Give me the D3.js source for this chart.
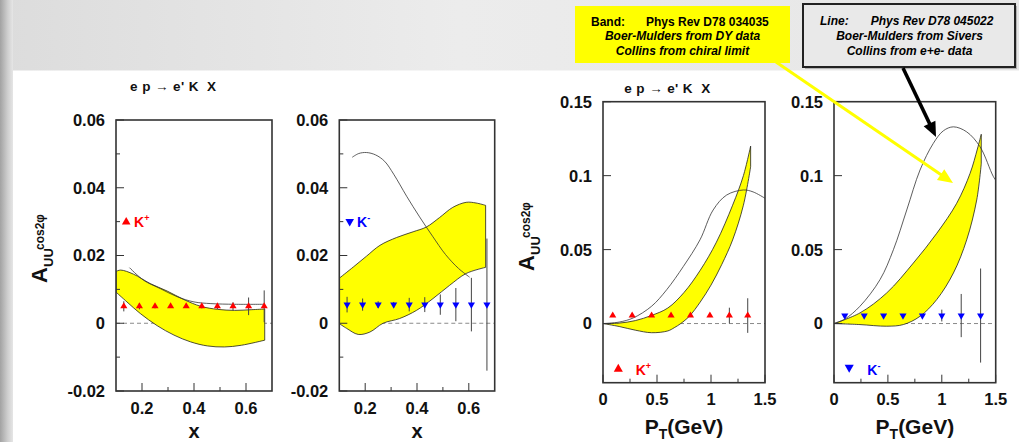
<!DOCTYPE html>
<html><head><meta charset="utf-8">
<script src="https://cdn.jsdelivr.net/npm/d3@7"></script>
<style>
html,body{margin:0;padding:0;background:#fff;overflow:hidden;}
svg{display:block;font-family:"Liberation Sans",Arial,Helvetica,sans-serif;}
</style></head><body>
<svg id="c" width="1019" height="442"></svg>
<script>
// ---------------- DATA ----------------
// x-dependence bins
const xBins = [0.13,0.19,0.25,0.31,0.37,0.43,0.49,0.55,0.61,0.67];
const kPlusX = [0.005,0.005,0.005,0.005,0.005,0.005,0.005,0.005,0.005,0.005];
const kPlusXErr = [0.0015,0.0009,0.0006,0.0005,0.0005,0.0006,0.0008,0.0012,0.0026,0.0047];
const kMinusX = [0.0055,0.0055,0.0055,0.0055,0.0055,0.0055,0.0055,0.0055,0.0055,0.0055];
const kMinusXErr = [0.0023,0.0018,0.001,0.0008,0.002,0.0022,0.003,0.0049,0.0079,0.0195];
// PT-dependence bins
const ptBinsPlus = [0.09,0.27,0.45,0.63,0.81,0.99,1.17,1.34];
const kPlusPt = [0.0054,0.0054,0.0054,0.0054,0.0054,0.0054,0.0054,0.0054];
const kPlusPtErr = [0.0005,0.0005,0.0005,0.0005,0.0006,0.001,0.0053,0.0117];
const ptBinsMinus = [0.10,0.28,0.46,0.64,0.82,1.00,1.18,1.36];
const kMinusPt = [0.0054,0.0054,0.0054,0.0054,0.0054,0.0054,0.0054,0.0054];
const kMinusPtErr = [0.0005,0.0005,0.0005,0.0006,0.001,0.004,0.0146,0.0318];

// Band (PRD78 034035) edges and Line (PRD78 045022)
const bandKpX_up = [[0.1,0.0153],[0.118,0.0157],[0.167,0.0145],[0.232,0.0117],[0.297,0.0095],[0.361,0.007],[0.426,0.005],[0.491,0.0041],[0.556,0.0038],[0.62,0.004],[0.672,0.0042]];
const bandKpX_lo = [[0.1,0.0092],[0.142,0.0063],[0.193,0.0029],[0.258,-0.0007],[0.323,-0.0035],[0.387,-0.0055],[0.452,-0.0067],[0.517,-0.007],[0.582,-0.0065],[0.672,-0.005]];
const lineKpX = [[0.152,0.0164],[0.206,0.0127],[0.271,0.0102],[0.336,0.0078],[0.4,0.0063],[0.465,0.0058],[0.556,0.0056],[0.672,0.0056]];

const bandKmX_up = [[0.1,0.0133],[0.154,0.0166],[0.205,0.0198],[0.257,0.023],[0.321,0.0253],[0.385,0.027],[0.436,0.0284],[0.487,0.0312],[0.538,0.0342],[0.59,0.0357],[0.628,0.0355],[0.665,0.0348]];
const bandKmX_lo = [[0.1,-0.0001],[0.128,-0.0015],[0.173,-0.0033],[0.218,-0.0026],[0.269,0.0],[0.333,0.0014],[0.398,0.0038],[0.462,0.0073],[0.526,0.0112],[0.59,0.0147],[0.665,0.0165]];
const lineKmX = [[0.15,0.049],[0.175,0.0501],[0.205,0.0504],[0.24,0.0497],[0.275,0.0478],[0.31,0.044],[0.36,0.0375],[0.41,0.0314],[0.46,0.0257],[0.51,0.0203],[0.56,0.0162],[0.603,0.0136]];

const bandKpPt_up = [[0,0],[0.15,0.0003],[0.3,0.002],[0.45,0.0055],[0.6,0.0105],[0.75,0.021],[0.9,0.036],[1.05,0.055],[1.2,0.08],[1.3,0.1],[1.367,0.12]];
const bandKpPt_lo = [[0,0],[0.15,-0.002],[0.3,-0.0045],[0.45,-0.0062],[0.6,-0.005],[0.66,-0.0028],[0.72,0.0],[0.8,0.005],[0.9,0.0145],[1.0,0.026],[1.1,0.04],[1.2,0.0565],[1.3,0.08],[1.367,0.106]];
const lineKpPt = [[0,0],[0.15,0.001],[0.28,0.0038],[0.45,0.0117],[0.59,0.0229],[0.744,0.0386],[0.898,0.0566],[1.02,0.0768],[1.145,0.0869],[1.3,0.0903],[1.39,0.089],[1.5,0.0847]];

const bandKmPt_up = [[0,0],[0.241,0.0072],[0.489,0.0207],[0.736,0.0409],[0.953,0.061],[1.138,0.0813],[1.262,0.1015],[1.33,0.118],[1.366,0.128]];
const bandKmPt_lo = [[0,0],[0.241,-0.0007],[0.489,-0.0018],[0.643,-0.0007],[0.798,0.0049],[0.953,0.0162],[1.108,0.0342],[1.231,0.0566],[1.324,0.0836],[1.366,0.108]];
const lineKmPt = [[0,0],[0.1,0.003],[0.241,0.0117],[0.427,0.0297],[0.551,0.0499],[0.675,0.0768],[0.798,0.1038],[0.921,0.1218],[1.014,0.1303],[1.108,0.133],[1.231,0.1296],[1.355,0.1195],[1.479,0.0993],[1.52,0.095]];

// ticks
const xMajorTicks = [0.2,0.4,0.6];
const xMinorTicks = [0.3,0.5];
const yMajorTicksX = [-0.02,0,0.02,0.04,0.06];
const yMinorTicksX = [-0.01,0.01,0.03,0.05];
const ptMajorTicks = [0,0.5,1,1.5];
const ptMinorTicks = [0.25,0.75,1.25];
const yMajorTicksPt = [0,0.05,0.1,0.15];

// texts
const reactionTitle = "e p \u2192 e' K\u00a0\u00a0X";
const bandText = ["Band:", "Phys Rev D78 034035", "Boer-Mulders from DY data", "Collins from chiral limit"];
const lineText = ["Line:", "Phys Rev D78 045022", "Boer-Mulders from Sivers", "Collins from e+e- data"];

// ---------------- DRAW ----------------
const svg = d3.select("#c");
const defs = svg.append("defs");
const gTop = defs.append("linearGradient").attr("id","gTop").attr("x1",0).attr("x2",1).attr("y1",0).attr("y2",0);
gTop.append("stop").attr("offset","0").attr("stop-color","#dcdcdc");
gTop.append("stop").attr("offset","0.45").attr("stop-color","#ececec");
gTop.append("stop").attr("offset","1").attr("stop-color","#e6e6e6");
const gLeft = defs.append("linearGradient").attr("id","gLeft").attr("x1",0).attr("x2",1).attr("y1",0).attr("y2",0);
gLeft.append("stop").attr("offset","0").attr("stop-color","#a2a2a2");
gLeft.append("stop").attr("offset","0.6").attr("stop-color","#cfcfcf");
gLeft.append("stop").attr("offset","1").attr("stop-color","#e6e6e6");

svg.append("rect").attr("x",0).attr("y",0).attr("width",1019).attr("height",442).attr("fill","url(#gTop)");
svg.append("rect").attr("x",0).attr("y",0).attr("width",13).attr("height",442).attr("fill","url(#gLeft)");
svg.append("rect").attr("x",13).attr("y",70.5).attr("width",1006).attr("height",372).attr("fill","#ffffff");

const panels = [
  {id:"p1", l:116, r:272, t:120, b:391, xd:[0.1,0.7], yd:[-0.02,0.06],
   xs:xBins, ys:kPlusX, es:kPlusXErr, col:"#ff0000", up:true,
   bu:bandKpX_up, bl:bandKpX_lo, ln:lineKpX,
   xMaj:xMajorTicks, xMin:xMinorTicks, yMaj:yMajorTicksX, yMin:yMinorTicksX},
  {id:"p2", l:339.3, r:494.7, t:120, b:391, xd:[0.1,0.7], yd:[-0.02,0.06],
   xs:xBins, ys:kMinusX, es:kMinusXErr, col:"#0000ff", up:false,
   bu:bandKmX_up, bl:bandKmX_lo, ln:lineKmX,
   xMaj:xMajorTicks, xMin:xMinorTicks, yMaj:yMajorTicksX, yMin:yMinorTicksX},
  {id:"p3", l:603, r:765, t:101.7, b:382.7, xd:[0,1.5], yd:[-0.04,0.15],
   xs:ptBinsPlus, ys:kPlusPt, es:kPlusPtErr, col:"#ff0000", up:true,
   bu:bandKpPt_up, bl:bandKpPt_lo, ln:lineKpPt,
   xMaj:ptMajorTicks, xMin:ptMinorTicks, yMaj:yMajorTicksPt, yMin:[]},
  {id:"p4", l:834, r:995.7, t:101.7, b:382.7, xd:[0,1.5], yd:[-0.04,0.15],
   xs:ptBinsMinus, ys:kMinusPt, es:kMinusPtErr, col:"#0000ff", up:false,
   bu:bandKmPt_up, bl:bandKmPt_lo, ln:lineKmPt,
   xMaj:ptMajorTicks, xMin:ptMinorTicks, yMaj:yMajorTicksPt, yMin:[]}
];

const fmt = v => v === 0 ? "0" : String(+v.toFixed(3));

panels.forEach(p => {
  const x = d3.scaleLinear().domain(p.xd).range([p.l, p.r]);
  const y = d3.scaleLinear().domain(p.yd).range([p.b, p.t]);
  defs.append("clipPath").attr("id","clip-"+p.id).append("rect")
    .attr("x",p.l).attr("y",p.t).attr("width",p.r-p.l).attr("height",p.b-p.t);
  const g = svg.append("g");
  const gc = g.append("g").attr("clip-path","url(#clip-"+p.id+")");
  gc.append("line").attr("x1",p.l).attr("x2",p.r).attr("y1",y(0)).attr("y2",y(0))
    .attr("stroke","#8a8a8a").attr("stroke-width",1).attr("stroke-dasharray","4,3");
  const lineGen = d3.line().x(d=>x(d[0])).y(d=>y(d[1])).curve(d3.curveCatmullRom.alpha(0.5));
  const upPath = lineGen(p.bu);
  const loPath = lineGen(p.bl.slice().reverse());
  gc.append("path").attr("d", upPath + loPath.replace(/^M/,"L") + "Z")
    .attr("fill","#ffff00").attr("stroke","#222").attr("stroke-width",0.8);
  gc.append("path").attr("d", lineGen(p.ln)).attr("fill","none")
    .attr("stroke","#333").attr("stroke-width",0.8);
  gc.selectAll("line.err").data(p.xs).enter().append("line")
    .attr("x1",(d)=>x(d)).attr("x2",(d)=>x(d))
    .attr("y1",(d,i)=>y(p.ys[i]-p.es[i])).attr("y2",(d,i)=>y(p.ys[i]+p.es[i]))
    .attr("stroke","#444").attr("stroke-width",1);
  const sym = d3.symbol().type(d3.symbolTriangle).size(22);
  gc.selectAll("path.m").data(p.xs).enter().append("path")
    .attr("d", sym)
    .attr("transform",(d,i)=>`translate(${x(d)},${y(p.ys[i])}) rotate(${p.up?0:180})`)
    .attr("fill",p.col);
  g.append("rect").attr("x",p.l).attr("y",p.t).attr("width",p.r-p.l).attr("height",p.b-p.t)
    .attr("fill","none").attr("stroke","#333").attr("stroke-width",1.6);
  p.yMaj.forEach(v => {
    g.append("line").attr("x1",p.l).attr("x2",p.l+8).attr("y1",y(v)).attr("y2",y(v)).attr("stroke","#333").attr("stroke-width",1);
    g.append("text").attr("x",p.l-11).attr("y",y(v)).attr("dy","0.36em").attr("text-anchor","end")
      .attr("font-size",16.5).attr("font-weight","bold").attr("fill","#111").text(fmt(v));
  });
  p.yMin.forEach(v => {
    g.append("line").attr("x1",p.l).attr("x2",p.l+4).attr("y1",y(v)).attr("y2",y(v)).attr("stroke","#333").attr("stroke-width",1);
  });
  p.xMaj.forEach(v => {
    g.append("line").attr("x1",x(v)).attr("x2",x(v)).attr("y1",p.b).attr("y2",p.b-8).attr("stroke","#333").attr("stroke-width",1);
    g.append("text").attr("x",x(v)).attr("y",p.b+22.5).attr("text-anchor","middle")
      .attr("font-size",16.5).attr("font-weight","bold").attr("fill","#111").text(fmt(v));
  });
  p.xMin.forEach(v => {
    g.append("line").attr("x1",x(v)).attr("x2",x(v)).attr("y1",p.b).attr("y2",p.b-4).attr("stroke","#333").attr("stroke-width",1);
  });
});

function xTitle(p){
  svg.append("text").attr("x",(p.l+p.r)/2).attr("y",438).attr("text-anchor","middle")
    .attr("font-size",20).attr("font-weight","bold").attr("fill","#111").text("x");
}
xTitle(panels[0]); xTitle(panels[1]);
function ptTitle(p){
  const t = svg.append("text").attr("x",(p.l+p.r)/2).attr("y",434).attr("text-anchor","middle")
    .attr("font-size",21).attr("font-weight","bold").attr("fill","#111");
  t.append("tspan").text("P");
  t.append("tspan").attr("font-size",14).attr("dy",5).text("T");
  t.append("tspan").attr("dy",-5).text("(GeV)");
}
ptTitle(panels[2]); ptTitle(panels[3]);

function yTitle(bx, sy){
  const mk = (x0,y0,size,txt) => svg.append("text")
    .attr("transform",`translate(${x0},${y0}) rotate(-90)`)
    .attr("font-size",size).attr("font-weight","bold").attr("fill","#111").text(txt);
  mk(bx, sy, 22, "A");
  mk(bx+6, sy-16, 13, "UU");
  mk(bx-3.5, sy-33, 12, "cos2\u03c6");
}
yTitle(47, 283);
yTitle(533.5, 271);

function rTitle(cx, by){
  svg.append("text").attr("x",cx).attr("y",by).attr("text-anchor","middle")
    .attr("font-size",13.5).attr("font-weight","bold").attr("letter-spacing",0.4).attr("fill","#111").text(reactionTitle);
}
rTitle(173.3, 90.7);
rTitle(667.5, 93);

function legend(cx, cy, up, col, size, tx, ty, sup){
  svg.append("path").attr("d", d3.symbol().type(d3.symbolTriangle).size(size)())
    .attr("transform",`translate(${cx},${cy}) rotate(${up?0:180})`).attr("fill",col);
  const t = svg.append("text").attr("x",tx).attr("y",ty).attr("font-size",14).attr("font-weight","bold").attr("fill",col);
  t.append("tspan").text("K");
  t.append("tspan").attr("font-size",9).attr("dy",-6).text(sup);
}
legend(126.2, 222, true, "#ff0000", 32, 134, 226.7, "+");
legend(349.7, 221.5, false, "#0000ff", 32, 357, 226.5, "-");
legend(618.3, 369, true, "#ff0000", 36, 635.7, 375, "+");
legend(849.2, 367.5, false, "#0000ff", 36, 867.3, 374.5, "-");

svg.append("rect").attr("x",575).attr("y",6).attr("width",215).attr("height",57).attr("fill","#ffff00");
svg.append("rect").attr("x",805).attr("y",6).attr("width",212).attr("height",63).attr("fill","#555").attr("opacity",0.35);
svg.append("rect").attr("x",803).attr("y",4).attr("width",212).attr("height",63).attr("fill","#e9e9e9").attr("stroke","#222").attr("stroke-width",2);
function boxText(arr, x1, x2, cx, ys, italic1){
  const common = s => s.attr("font-size",12).attr("font-weight","bold").attr("fill","#000");
  common(svg.append("text").attr("x",x1).attr("y",ys[0]).attr("font-style",italic1?"italic":"normal").text(arr[0]));
  common(svg.append("text").attr("x",x2).attr("y",ys[0]).attr("font-style",italic1?"italic":"normal").text(arr[1]));
  common(svg.append("text").attr("x",cx).attr("y",ys[1]).attr("text-anchor","middle").attr("font-style","italic").text(arr[2]));
  common(svg.append("text").attr("x",cx).attr("y",ys[2]).attr("text-anchor","middle").attr("font-style","italic").text(arr[3]));
}
boxText(bandText, 591, 646, 682.5, [26, 40, 55], false);
boxText(lineText, 820, 870.7, 909.5, [25, 39.5, 55], true);

function arrow(x0,y0,x1,y1,col,w,hl,hw){
  const dx=x1-x0, dy=y1-y0, L=Math.hypot(dx,dy), ux=dx/L, uy=dy/L;
  const bx=x1-ux*hl, by=y1-uy*hl;
  svg.append("line").attr("x1",x0).attr("y1",y0).attr("x2",bx+ux*1).attr("y2",by+uy*1)
    .attr("stroke",col).attr("stroke-width",w);
  svg.append("path").attr("d",`M${x1},${y1}L${bx-uy*hw},${by+ux*hw}L${bx+uy*hw},${by-ux*hw}Z`).attr("fill",col);
}
arrow(776, 62, 953, 183, "#ffff00", 3, 15, 6.5);
arrow(903, 68, 936, 137, "#000000", 3.5, 15, 6.5);
</script>
</body></html>
